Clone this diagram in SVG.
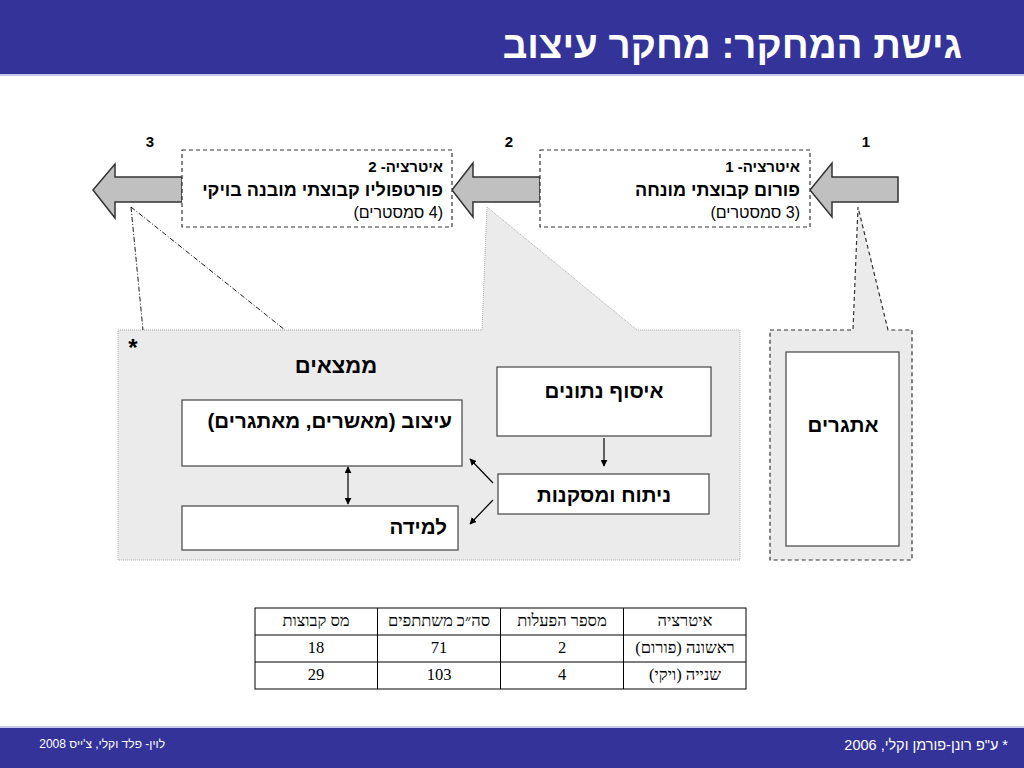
<svg xmlns="http://www.w3.org/2000/svg" width="1024" height="768" viewBox="0 0 1024 768">
<defs>
<marker id="ah" viewBox="0 0 10 10" refX="9" refY="5" markerWidth="7" markerHeight="7" orient="auto-start-reverse" markerUnits="userSpaceOnUse"><path d="M0,0 L10,5 L0,10 z" fill="#000"/></marker>
</defs>
<style>
.he{font-family:"Liberation Sans","DejaVu Sans",sans-serif;}
.b{font-weight:bold;}
.rtl{direction:rtl;}
.blk{fill:#000;}
.wht{fill:#fff;}
.dbox{fill:#fff;stroke:#333;stroke-width:1.2;stroke-dasharray:4 3;}
.ibox{fill:#fff;stroke:#444;stroke-width:1.2;}
.barrow{fill:#c0c0c0;stroke:#333;stroke-width:1.5;}
.tbl{font-family:"Liberation Serif","DejaVu Serif",serif;font-size:16.5px;fill:#000;}
.conn{stroke:#000;stroke-width:1.2;fill:none;}
.inner{font-size:20.5px;}
</style>
<rect width="1024" height="768" fill="#fff"/>
<g id="header">
<rect x="0" y="0" width="1024" height="74" fill="#333399"/>
<rect x="0" y="74" width="1024" height="2" fill="#c8c8ec"/>
<text x="962" y="58" class="he b wht rtl" font-size="38.5" text-anchor="start">גישת המחקר: מחקר עיצוב</text>
</g>
<g id="footer">
<rect x="0" y="726" width="1024" height="2" fill="#c8c8ec"/>
<rect x="0" y="728" width="1024" height="40" fill="#333399"/>
<text x="165" y="748" class="he wht rtl" font-size="12" text-anchor="start">לוין- פלד וקלי, צ'ייס 2008</text>
<text x="1008" y="750" class="he wht rtl" font-size="14.5" text-anchor="start">* ע"פ רונן-פורמן וקלי, 2006</text>
</g>
<g id="callout-main">
<polygon points="118,330 482,330 487,207 637,330 740,330 740,560 118,560" fill="#ebebeb" stroke="#aaa" stroke-width="1" stroke-dasharray="1 1"/>
<text x="133" y="356" class="he b blk" font-size="24" text-anchor="middle">*</text>
<text x="336" y="373" class="he b blk rtl" font-size="22" text-anchor="middle">ממצאים</text>
</g>
<g id="callout-challenges">
<polygon points="770,330 853,330 858,207 888,330 912,330 912,560 770,560" fill="#ebebeb" stroke="#333" stroke-width="1.2" stroke-dasharray="4 3"/>
</g>
<g id="arrow1"><polygon class="barrow" points="810,190 832,163 832,177 898,177 898,202 832,202 832,217"/></g>
<g id="arrow2"><polygon class="barrow" points="452,190 473,163 473,177 540,177 540,202 473,202 473,217"/></g>
<g id="arrow3"><polygon class="barrow" points="93,190 115,164 115,177 182,177 182,202 115,202 115,218"/></g>
<g id="num1"><text x="866" y="147" class="he b blk" font-size="15" text-anchor="middle">1</text></g>
<g id="num2"><text x="509" y="147" class="he b blk" font-size="15" text-anchor="middle">2</text></g>
<g id="num3"><text x="150" y="147" class="he b blk" font-size="15" text-anchor="middle">3</text></g>
<g id="iter1">
<rect class="dbox" x="540" y="150" width="270" height="77"/>
<text x="800" y="172" class="he b blk rtl" font-size="15" text-anchor="start">איטרציה- 1</text>
<text x="800" y="196" class="he b blk rtl" font-size="18" text-anchor="start">פורום קבוצתי מונחה</text>
<text x="800" y="218" class="he blk rtl" font-size="16" text-anchor="start">(3 סמסטרים)</text>
</g>
<g id="iter2">
<rect class="dbox" x="182" y="150" width="270" height="77"/>
<text x="443" y="172" class="he b blk rtl" font-size="15" text-anchor="start">איטרציה- 2</text>
<text x="443" y="196" class="he b blk rtl" font-size="18" text-anchor="start">פורטפוליו קבוצתי מובנה בויקי</text>
<text x="443" y="218" class="he blk rtl" font-size="16" text-anchor="start">(4 סמסטרים)</text>
</g>
<g id="challenges">
<rect class="ibox" x="786" y="352" width="113" height="194"/>
<text x="843" y="432" class="he b blk rtl inner" text-anchor="middle">אתגרים</text>
</g>
<g id="data-collection">
<rect class="ibox" x="497" y="367" width="214" height="69"/>
<text x="604" y="398" class="he b blk rtl inner" text-anchor="middle">איסוף נתונים</text>
</g>
<g id="design">
<rect class="ibox" x="182" y="400" width="280" height="66"/>
<text x="452" y="428" class="he b blk rtl inner" text-anchor="start">עיצוב (מאשרים, מאתגרים)</text>
</g>
<g id="analysis">
<rect class="ibox" x="498" y="474" width="211" height="40"/>
<text x="604" y="502" class="he b blk rtl inner" text-anchor="middle">ניתוח ומסקנות</text>
</g>
<g id="learning">
<rect class="ibox" x="182" y="506" width="276" height="44"/>
<text x="447" y="534" class="he b blk rtl inner" text-anchor="start">למידה</text>
</g>
<g id="connectors">
<line x1="131" y1="207" x2="143" y2="330" stroke="#000" stroke-width="0.9" stroke-dasharray="5 2 1 2"/>
<line x1="131" y1="207" x2="285" y2="330" stroke="#000" stroke-width="0.9" stroke-dasharray="5 2 1 2"/>
<line class="conn" x1="604" y1="438" x2="604" y2="466" marker-end="url(#ah)"/>
<line class="conn" x1="348" y1="467" x2="348" y2="504" marker-start="url(#ah)" marker-end="url(#ah)"/>
<line class="conn" x1="493" y1="483" x2="470" y2="459" marker-end="url(#ah)"/>
<line class="conn" x1="493" y1="500" x2="470" y2="524" marker-end="url(#ah)"/>
</g>
<g id="table">
<rect x="255" y="608" width="491" height="81" fill="#fff" stroke="#000" stroke-width="1"/>
<line x1="255" y1="635" x2="746" y2="635" stroke="#000"/>
<line x1="255" y1="662" x2="746" y2="662" stroke="#000"/>
<line x1="377.5" y1="608" x2="377.5" y2="689" stroke="#000"/>
<line x1="500.5" y1="608" x2="500.5" y2="689" stroke="#000"/>
<line x1="623.5" y1="608" x2="623.5" y2="689" stroke="#000"/>
<text x="685" y="626" class="tbl rtl" text-anchor="middle">איטרציה</text>
<text x="562" y="626" class="tbl rtl" text-anchor="middle">מספר הפעלות</text>
<text x="439" y="626" class="tbl rtl" text-anchor="middle">סה״כ משתתפים</text>
<text x="316" y="626" class="tbl rtl" text-anchor="middle">מס קבוצות</text>
<text x="685" y="653" class="tbl rtl" text-anchor="middle">ראשונה (פורום)</text>
<text x="562" y="653" class="tbl" text-anchor="middle">2</text>
<text x="439" y="653" class="tbl" text-anchor="middle">71</text>
<text x="316" y="653" class="tbl" text-anchor="middle">18</text>
<text x="685" y="680" class="tbl rtl" text-anchor="middle">שנייה (ויקי)</text>
<text x="562" y="680" class="tbl" text-anchor="middle">4</text>
<text x="439" y="680" class="tbl" text-anchor="middle">103</text>
<text x="316" y="680" class="tbl" text-anchor="middle">29</text>
</g>
</svg>
